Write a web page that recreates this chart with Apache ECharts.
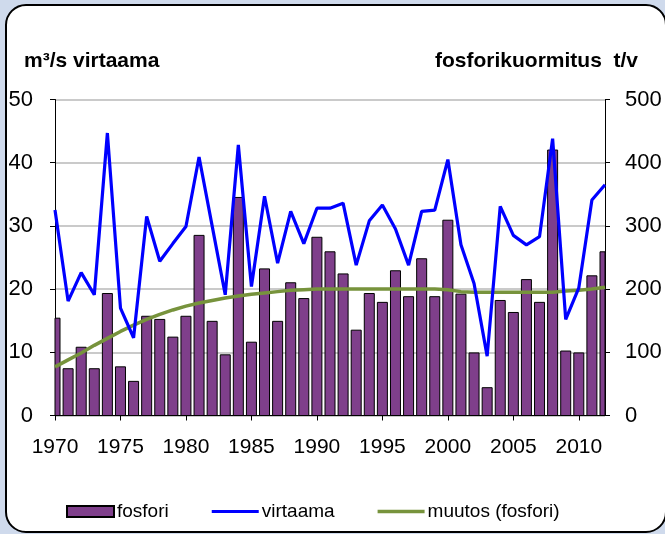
<!DOCTYPE html>
<html>
<head>
<meta charset="utf-8">
<script src="https://cdn.jsdelivr.net/npm/echarts@6/dist/echarts.min.js"></script>
<style>
  html, body { margin: 0; padding: 0; background: #cfdaec; }
  #chart { width: 665px; height: 534px; }
</style>
</head>
<body>
<div id="chart"></div>
<script>
// vuodet 1970-2012
const years = [];
for (let y = 1970; y <= 2012; y++) years.push(y);
const yearTicks = [1970, 1975, 1980, 1985, 1990, 1995, 2000, 2005, 2010];

// fosforikuormitus t/v (oikea akseli)
const fosfori = [154, 74, 108, 74, 193, 77, 54, 157, 152, 124, 157, 285, 149, 96, 345,
    116, 232, 149, 210, 185, 282, 259, 224, 135, 193, 179, 229, 188, 248,
    188, 309, 192, 99, 44, 182, 163, 215, 179, 420, 102, 99, 221, 259];
// virtaama m3/s (vasen akseli)
const virtaama = [32.5, 18.1, 22.6, 19.1, 44.7, 17.0, 12.3, 31.5, 24.4, 27.2, 29.9, 40.9, 30.0, 19.1, 42.8,
    20.4, 34.7, 24.1, 32.3, 27.2, 32.8, 32.8, 33.6, 23.8, 30.8, 33.3, 29.5, 23.8, 32.3,
    32.5, 40.5, 27.0, 20.9, 9.4, 33.1, 28.5, 27.0, 28.3, 43.8, 15.2, 20.2, 34.1, 36.5];
// muutos (fosfori), trendi
const muutos = [77, 88, 99, 111, 122, 133, 143, 152, 160, 167, 173, 178, 182, 186, 189,
    192, 194, 196, 198, 199, 200, 200, 200, 200, 200, 200, 200, 200, 200,
    200, 199, 196, 195, 195, 195, 195, 195, 195, 195, 197, 198, 200, 203];

const font = "'Liberation Sans', Arial, sans-serif";
const barColor = '#7f3f8b';

function pairs(values) {
    return years.map((y, i) => [y, values[i]]);
}

// pylväät leikataan kuva-alueen reunoihin (1970 ja 2012 puolikkaina)
function renderBar(params, api) {
    let top = api.coord([api.value(0), api.value(1)]);
    let bottom = api.coord([api.value(0), 0]);
    let w = 10;
    let shape = echarts.graphic.clipRectByRect(
        { x: top[0] - w / 2, y: top[1], width: w, height: bottom[1] - top[1] },
        { x: params.coordSys.x, y: params.coordSys.y, width: params.coordSys.width, height: params.coordSys.height }
    );
    if (!shape) {
        return;
    }
    return {
        type: 'rect',
        shape: shape,
        style: { fill: barColor, stroke: '#000', lineWidth: 1 }
    };
}

var myChart = echarts.init(document.getElementById('chart'));
option = {
    backgroundColor: '#cfdaec',
    animation: false,
    textStyle: { fontFamily: font },
    graphic: [
        {
            type: 'rect',
            z: -10,
            shape: { x: 6, y: 5, width: 660, height: 527, r: 20 },
            style: { fill: '#ffffff', stroke: '#000000', lineWidth: 2 }
        },
        {
            type: 'text',
            left: 24, top: 51,
            style: { text: 'm³/s virtaama', font: 'bold 21px ' + font, fill: '#000' }
        },
        {
            type: 'text',
            right: 27, top: 51,
            style: { text: 'fosforikuormitus  t/v', font: 'bold 21px ' + font, fill: '#000' }
        }
    ],
    grid: { left: 55, right: 60, top: 99.5, bottom: 118.5 },
    legend: {
        left: 61, top: 497,
        itemWidth: 47, itemHeight: 11, itemGap: 43,
        textStyle: { fontSize: 19, fontFamily: font, color: '#000', padding: [0, 0, 0, -2] },
        data: [
            { name: 'fosfori', icon: 'rect', itemStyle: { color: barColor, borderColor: '#000', borderWidth: 2 } },
            { name: 'virtaama', icon: 'path://M0,0 H47 V3 H0 Z', itemStyle: { color: '#0000ff', borderWidth: 0 } },
            { name: 'muutos (fosfori)', icon: 'path://M0,0 H47 V3.5 H0 Z', itemStyle: { color: '#77933c', borderWidth: 0 } }
        ]
    },
    xAxis: {
        type: 'value',
        min: 1970, max: 2012,
        axisLine: { lineStyle: { color: '#000', width: 1 } },
        axisTick: { customValues: yearTicks, length: 5, lineStyle: { color: '#000' } },
        axisLabel: {
            customValues: yearTicks, fontSize: 21, color: '#000', margin: 21, fontFamily: font,
            formatter: function (v) { return String(v); }
        },
        splitLine: { show: false }
    },
    yAxis: [
        {
            type: 'value', min: 0, max: 50, interval: 10, position: 'left',
            axisLine: { show: true, lineStyle: { color: '#000' } },
            axisTick: { show: true, length: 5, lineStyle: { color: '#000' } },
            axisLabel: { fontSize: 22, color: '#000', margin: 22, fontFamily: font },
            splitLine: { lineStyle: { color: '#b8b8b8', width: 1.5 } }
        },
        {
            type: 'value', min: 0, max: 500, interval: 100, position: 'right',
            axisLine: { show: true, lineStyle: { color: '#000' } },
            axisTick: { show: true, length: 5, lineStyle: { color: '#000' } },
            axisLabel: { fontSize: 22, color: '#000', margin: 20, fontFamily: font },
            splitLine: { show: false }
        }
    ],
    series: [
        {
            name: 'fosfori',
            type: 'custom',
            yAxisIndex: 1,
            renderItem: renderBar,
            encode: { x: 0, y: 1 },
            data: pairs(fosfori),
            itemStyle: { color: barColor, borderColor: '#000', borderWidth: 1 },
            z: 2
        },
        {
            name: 'virtaama',
            type: 'line',
            yAxisIndex: 0,
            symbol: 'none',
            data: pairs(virtaama),
            lineStyle: { color: '#0000ff', width: 3.2 },
            itemStyle: { color: '#0000ff' },
            z: 4
        },
        {
            name: 'muutos (fosfori)',
            type: 'line',
            yAxisIndex: 1,
            symbol: 'none',
            data: pairs(muutos),
            lineStyle: { color: '#77933c', width: 3.5 },
            itemStyle: { color: '#77933c' },
            z: 3
        }
    ]
};
myChart.setOption(option);
</script>
</body>
</html>
